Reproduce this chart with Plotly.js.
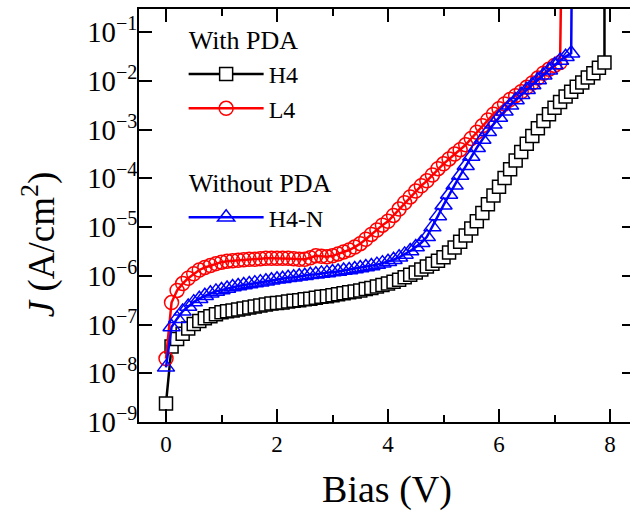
<!DOCTYPE html>
<html><head><meta charset="utf-8">
<script src="https://cdn.plot.ly/plotly-3.0.1.min.js"></script>
<style>
html,body{margin:0;padding:0;overflow:hidden;background:#fff}
#plot{width:645px;height:515px}
</style>
</head><body><div id="plot"></div>
<script>
// Bias (V) sampling points
var bias = [0.0,0.1,0.2,0.3,0.4,0.5,0.6,0.7,0.8,0.9,
            1.0,1.1,1.2,1.3,1.4,1.5,1.6,1.7,1.8,1.9,
            2.0,2.1,2.2,2.3,2.4,2.5,2.6,2.7,2.8,2.9,
            3.0,3.1,3.2,3.3,3.4,3.5,3.6,3.7,3.8,3.9,
            4.0,4.1,4.2,4.3,4.4,4.5,4.6,4.7,4.8,4.9,
            5.0,5.1,5.2,5.3,5.4,5.5,5.6,5.7,5.8,5.9,
            6.0,6.1,6.2,6.3,6.4,6.5,6.6,6.7,6.8,6.9,
            7.0,7.1,7.2,7.3,7.4,7.5,7.6,7.7,7.8,7.9];

// log10(J) values
var h4Log = [-8.62,-7.45,-7.30,-7.19,-7.08,-6.99,-6.93,-6.87,-6.83,-6.79,
             -6.75,-6.73,-6.71,-6.69,-6.67,-6.65,-6.63,-6.61,-6.59,-6.57,
             -6.56,-6.55,-6.53,-6.51,-6.50,-6.48,-6.47,-6.45,-6.43,-6.42,
             -6.40,-6.38,-6.36,-6.34,-6.32,-6.30,-6.27,-6.25,-6.22,-6.19,
             -6.16,-6.12,-6.08,-6.03,-5.98,-5.93,-5.87,-5.81,-5.75,-5.69,
             -5.62,-5.52,-5.42,-5.30,-5.17,-5.03,-4.88,-4.71,-4.53,-4.35,
             -4.17,-3.99,-3.81,-3.63,-3.46,-3.29,-3.13,-2.97,-2.82,-2.68,
             -2.55,-2.43,-2.32,-2.22,-2.12,-2.03,-1.93,-1.84,-1.73,-1.62];

var l4Log = [-7.70,-6.55,-6.30,-6.16,-6.05,-5.96,-5.88,-5.83,-5.79,-5.75,
             -5.72,-5.70,-5.69,-5.68,-5.67,-5.66,-5.66,-5.65,-5.64,-5.64,
             -5.64,-5.64,-5.64,-5.65,-5.66,-5.66,-5.63,-5.59,-5.60,-5.61,
             -5.59,-5.55,-5.51,-5.47,-5.41,-5.34,-5.25,-5.15,-5.06,-4.96,
             -4.88,-4.76,-4.63,-4.50,-4.38,-4.26,-4.15,-4.05,-3.93,-3.80,
             -3.70,-3.60,-3.50,-3.41,-3.31,-3.18,-3.05,-2.92,-2.80,-2.68,
             -2.57,-2.47,-2.38,-2.30,-2.22,-2.13,-2.04,-1.94,-1.84,-1.76,
             -1.68,-1.62];

var h4nLog = [-7.88,-7.05,-6.88,-6.73,-6.63,-6.54,-6.47,-6.41,-6.36,-6.32,
              -6.29,-6.26,-6.23,-6.21,-6.19,-6.17,-6.15,-6.13,-6.11,-6.09,
              -6.07,-6.06,-6.04,-6.03,-6.01,-6.00,-5.98,-5.97,-5.95,-5.94,
              -5.92,-5.91,-5.89,-5.88,-5.86,-5.84,-5.82,-5.80,-5.77,-5.74,
              -5.71,-5.67,-5.62,-5.56,-5.49,-5.41,-5.32,-5.20,-5.00,-4.77,
              -4.55,-4.33,-4.14,-3.94,-3.74,-3.55,-3.37,-3.20,-3.04,-2.89,
              -2.75,-2.62,-2.50,-2.39,-2.28,-2.18,-2.08,-1.98,-1.88,-1.78,
              -1.67,-1.58,-1.50,-1.43];

// breakdown: the curve shoots up (off the top of the axis) at these biases
var breakdownV = {H4: 7.90, L4: 7.12, H4N: 7.31};
var breakdownJ = 1;

var seriesNames = ['H4', 'L4', 'H4-N'];
var groupTitles = ['With PDA', 'Without PDA'];

function series(logs, vb) {
  var x = bias.slice(0, logs.length).concat([vb]);
  var y = logs.map(function (v) { return Math.pow(10, v); }).concat([breakdownJ]);
  return {x: x, y: y};
}

var fontFam = 'Liberation Serif';
var s1 = series(h4Log, breakdownV.H4);
var s2 = series(l4Log, breakdownV.L4);
var s3 = series(h4nLog, breakdownV.H4N);

var traces = [
  {x: s1.x, y: s1.y, name: seriesNames[0], type: 'scatter', mode: 'lines+markers',
   legendgroup: 'g1', legendgrouptitle: {text: groupTitles[0], font: {size: 26, family: fontFam, color: '#000'}},
   line: {color: '#000000', width: 2.5},
   marker: {symbol: 'square', size: 13, color: '#ffffff', line: {color: '#000000', width: 1.5}}},
  {x: s2.x, y: s2.y, name: seriesNames[1], type: 'scatter', mode: 'lines+markers',
   legendgroup: 'g1',
   line: {color: '#ff0000', width: 2.5},
   marker: {symbol: 'circle-open', size: 14, color: '#ff0000', line: {width: 1.5}}},
  {x: s3.x, y: s3.y, name: seriesNames[2], type: 'scatter', mode: 'lines+markers',
   legendgroup: 'g2', legendgrouptitle: {text: groupTitles[1], font: {size: 26, family: fontFam, color: '#000'}},
   line: {color: '#0000ff', width: 2.5},
   marker: {symbol: 'triangle-up-open', size: 15, color: '#0000ff', line: {width: 1.5}}}
];

var axisCommon = {
  ticks: 'inside', ticklen: 13, tickwidth: 2, tickcolor: '#000',
  showline: true, linewidth: 2, linecolor: '#000', mirror: 'ticks',
  showgrid: false, zeroline: false,
  tickfont: {size: 23, family: fontFam, color: '#000'}
};

var layout = {
  width: 645, height: 515,
  margin: {l: 139, r: 10, t: 9, b: 93},
  paper_bgcolor: '#fff', plot_bgcolor: '#fff',
  font: {family: fontFam, color: '#000', size: 23},
  showlegend: true,
  legend: {x: 0.09, y: 0.985, xanchor: 'left', yanchor: 'top', traceorder: 'grouped',
           tracegroupgap: 38, itemwidth: 75, bgcolor: 'rgba(0,0,0,0)',
           font: {size: 24, family: fontFam, color: '#000'}},
  xaxis: Object.assign({}, axisCommon, {
    range: [-0.4865, 8.45], tick0: 0, dtick: 2,
    minor: {tick0: 0, dtick: 1, ticks: 'inside', ticklen: 7, tickwidth: 2, tickcolor: '#000', showgrid: false},
    title: {text: 'Bias (V)', font: {size: 38, family: fontFam, color: '#000'}, standoff: 20}
  }),
  yaxis: Object.assign({}, axisCommon, {
    type: 'log', range: [-9.002, -0.521], dtick: 1, exponentformat: 'power',
    ticklabelstandoff: -5
  }),
  annotations: [{
    text: '<i>J</i> (A/cm<sup>2</sup>)', xref: 'paper', yref: 'paper',
    x: -0.2, y: 0.43, xanchor: 'center', yanchor: 'middle', textangle: -90,
    showarrow: false, font: {size: 37, family: fontFam, color: '#000'}
  }]
};

Plotly.newPlot('plot', traces, layout, {displayModeBar: false, staticPlot: true});
</script></body></html>
